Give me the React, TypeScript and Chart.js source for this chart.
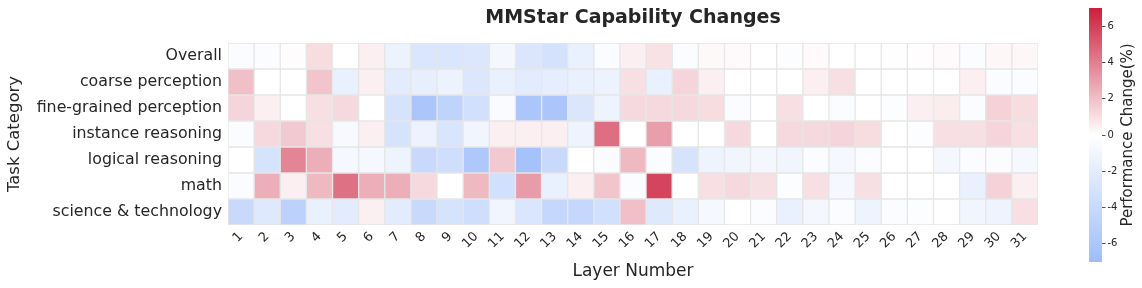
import React, { useEffect, useRef } from "react";
import { Chart, registerables } from "chart.js";
Chart.register(...registerables);

const FONT = "'DejaVu Sans', sans-serif";
const TEXT = "#262626";

const rowLabels = [
  "Overall",
  "coarse perception",
  "fine-grained perception",
  "instance reasoning",
  "logical reasoning",
  "math",
  "science & technology",
];

const layerLabels = [
  "1", "2", "3", "4", "5", "6", "7", "8", "9", "10", "11", "12", "13", "14", "15", "16",
  "17", "18", "19", "20", "21", "22", "23", "24", "25", "26", "27", "28", "29", "30", "31",
];

const overall = [-0.3, -0.3, 0.1, 1.1, 0, 0.5, -1.4, -2.7, -2.7, -2.5, -0.8, -2.6, -3.1, -1.6, -0.3, 0.5, 0.9, -0.3, 0.2, 0.15, 0, -0.2, 0.15, 0, 0, -0.1, 0.05, 0.15, -0.3, 0.25, 0.25];
const coarsePerception = [2.0, 0, 0, 1.8, -1.5, 0.5, -2.0, -1.7, -1.3, -2.5, -1.5, -2.0, -1.9, -1.6, -1.3, 1.0, -1.5, 1.3, 0.5, 0, 0, 0, 0.5, 1.0, 0, 0, 0, 0, 0.5, -0.3, -0.3];
const fineGrainedPerception = [1.3, 0.5, 0, 1.0, 1.2, 0, -3.0, -6.0, -4.6, -3.3, -0.4, -6.0, -6.0, -2.6, -1.2, 1.2, 1.2, 1.2, 1.1, -0.3, 0, 1.0, 0, -0.3, 0, -0.2, 0.5, 0.6, -0.3, 1.4, 1.1];
const instanceReasoning = [-0.3, 1.2, 1.7, 1.0, -0.6, 0.5, -3.0, -1.3, -2.8, -1.0, 0.5, 0.5, 0.5, -1.2, 4.5, 0, 3.0, 0, 0, 1.2, 0, 1.2, 1.2, 1.3, 1.1, 0, -0.2, 1.0, 1.0, 1.3, 1.0];
const logicalReasoning = [0, -3.0, 3.8, 2.5, -0.7, -0.7, -1.2, -4.0, -3.5, -5.8, 1.7, -6.5, -4.0, 0, -0.3, 2.2, -0.3, -3.0, -1.2, -1.1, -0.8, -1.1, -0.3, -0.7, -0.3, 0, 0, -0.8, -0.3, -0.3, -0.7];
const math = [-0.3, 2.5, 0.5, 2.2, 4.4, 2.5, 2.5, 1.2, 0, 2.2, -3.3, 3.1, -1.6, 0.5, 1.8, -0.3, 5.8, 0, 1.0, 1.2, 1.0, -0.2, 1.0, -0.7, 1.0, 0, 0, 0, -1.5, 1.4, 0.5];
const scienceTechnology = [-4.0, -2.3, -4.8, -1.5, -2.0, 0.5, -2.0, -4.0, -3.0, -3.5, -1.0, -2.7, -4.2, -4.2, -3.3, 2.0, -2.3, -1.5, -0.7, 0, -0.3, -1.5, -0.8, -0.3, -1.2, -0.3, -0.2, 0, -1.0, -1.2, 1.0];

const heatRows = [overall, coarsePerception, fineGrainedPerception, instanceReasoning, logicalReasoning, math, scienceTechnology];

const colorbarTicks = [-6, -4, -2, 0, 2, 4, 6];
const V_MIN = -7;
const V_MAX = 7;

const RED_END = [203, 31, 60];
const BLUE_END = [158, 189, 250];

function colorFor(v: number): string {
  const t = Math.min(1, Math.abs(v) / V_MAX);
  const end = v >= 0 ? RED_END : BLUE_END;
  const c = end.map((e) => Math.round(255 + (e - 255) * t));
  return `rgb(${c[0]},${c[1]},${c[2]})`;
}

export default function App() {
  const mainRef = useRef<HTMLCanvasElement | null>(null);
  const cbRef = useRef<HTMLCanvasElement | null>(null);

  useEffect(() => {
    const main = new Chart(mainRef.current as HTMLCanvasElement, {
      type: "bar",
      data: {
        labels: layerLabels,
        datasets: heatRows.map((vals, r) => ({
          label: rowLabels[r],
          data: vals.map(() => [r, r + 1]),
          backgroundColor: vals.map(colorFor),
          borderColor: "#e6e6e6",
          borderWidth: 1,
          borderSkipped: false,
          barPercentage: 1,
          categoryPercentage: 1,
          grouped: false,
        })) as any,
      },
      options: {
        animation: false,
        responsive: false,
        maintainAspectRatio: false,
        layout: { padding: { left: 0, right: 32, top: 0, bottom: 0 } },
        plugins: {
          legend: { display: false },
          tooltip: { enabled: false },
          title: {
            display: true,
            text: "MMStar Capability Changes",
            fullSize: false,
            color: TEXT,
            font: { family: FONT, size: 19, weight: "bold" },
            padding: { top: 6.6, bottom: 13.6 },
          },
        },
        scales: {
          x: {
            type: "category",
            grid: { display: false, drawTicks: false },
            border: { display: false },
            ticks: {
              minRotation: 45,
              maxRotation: 45,
              autoSkip: false,
              padding: 4,
              color: TEXT,
              font: { family: FONT, size: 13 },
            },
            title: {
              display: true,
              text: "Layer Number",
              color: TEXT,
              font: { family: FONT, size: 17 },
              padding: { top: 0, bottom: 5.8 },
            },
            afterFit: (s: any) => {
              s.height = 63;
            },
          },
          y: {
            type: "linear",
            min: 0,
            max: 7,
            reverse: true,
            grid: { display: false, drawTicks: false },
            border: { display: false },
            afterBuildTicks: (s: any) => {
              s.ticks = rowLabels.map((_, i) => ({ value: i + 0.5 }));
            },
            ticks: {
              autoSkip: false,
              padding: 6,
              color: TEXT,
              font: { family: FONT, size: 15.8 },
              callback: (v: any) => rowLabels[Math.floor(Number(v))],
            },
            title: {
              display: true,
              text: "Task Category",
              color: TEXT,
              font: { family: FONT, size: 16.5 },
              padding: { top: 5, bottom: 0 },
            },
            afterFit: (s: any) => {
              s.width = 228;
            },
          },
        },
      } as any,
    });

    const cb = new Chart(cbRef.current as HTMLCanvasElement, {
      type: "bar",
      data: {
        labels: [""],
        datasets: [
          {
            data: [[V_MIN, V_MAX]] as any,
            backgroundColor: (ctx: any) => {
              const chart = ctx.chart;
              const area = chart.chartArea;
              if (!area) return "white";
              const g = chart.ctx.createLinearGradient(0, area.bottom, 0, area.top);
              g.addColorStop(0, colorFor(V_MIN));
              g.addColorStop(0.5, colorFor(0));
              g.addColorStop(1, colorFor(V_MAX));
              return g;
            },
            borderWidth: 0,
            barPercentage: 1,
            categoryPercentage: 1,
          },
        ],
      },
      options: {
        animation: false,
        responsive: false,
        maintainAspectRatio: false,
        layout: { padding: { left: 14, top: 7, bottom: 26, right: 0 } },
        plugins: { legend: { display: false }, tooltip: { enabled: false } },
        scales: {
          x: { display: false },
          y: {
            position: "right",
            min: V_MIN,
            max: V_MAX,
            afterBuildTicks: (s: any) => {
              s.ticks = colorbarTicks.map((v) => ({ value: v }));
            },
            grid: { drawOnChartArea: false, drawTicks: true, tickLength: 3.5, color: TEXT, lineWidth: 0.8 },
            border: { display: false },
            ticks: { padding: 2, color: TEXT, font: { family: FONT, size: 10 } },
            afterFit: (s: any) => {
              s.width = 40;
            },
          },
        },
      } as any,
      plugins: [
        {
          id: "cbLabel",
          afterDraw(chart: any) {
            const c = chart.ctx;
            const area = chart.chartArea;
            c.save();
            c.translate(53, (area.top + area.bottom) / 2);
            c.rotate(-Math.PI / 2);
            c.font = `15px ${FONT}`;
            c.fillStyle = TEXT;
            c.textAlign = "center";
            c.textBaseline = "middle";
            c.fillText("Performance Change(%)", 0, 0);
            c.restore();
          },
        },
      ],
    });

    return () => {
      main.destroy();
      cb.destroy();
    };
  }, []);

  return (
    <div style={{ position: "absolute", left: 0, top: 0, width: 1142, height: 288, background: "#fff" }}>
      <canvas
        ref={mainRef}
        width={1070}
        height={288}
        style={{ position: "absolute", left: 0, top: 0, width: 1070, height: 288 }}
      />
      <canvas
        ref={cbRef}
        width={67}
        height={288}
        style={{ position: "absolute", left: 1075, top: 0, width: 67, height: 288 }}
      />
    </div>
  );
}
